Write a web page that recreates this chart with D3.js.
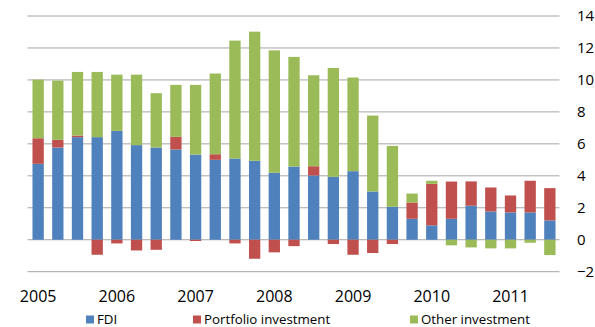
<!DOCTYPE html>
<html>
<head>
<meta charset="utf-8">
<script src="https://cdn.jsdelivr.net/npm/d3@7"></script>
<style>
  html, body { margin: 0; padding: 0; background: #fff; }
  svg { display: block; }
  text { font-family: "Open Sans", "Noto Sans", sans-serif; fill: #000; }
</style>
</head>
<body>
<svg id="chart" width="595" height="327"></svg>
<script>
const quarters = ["2005Q1","2005Q2","2005Q3","2005Q4","2006Q1","2006Q2","2006Q3","2006Q4",
  "2007Q1","2007Q2","2007Q3","2007Q4","2008Q1","2008Q2","2008Q3","2008Q4",
  "2009Q1","2009Q2","2009Q3","2009Q4","2010Q1","2010Q2","2010Q3","2010Q4",
  "2011Q1","2011Q2","2011Q3"];
const fdi = [4.75,5.77,6.42,6.42,6.81,5.92,5.77,5.65,5.33,5.00,5.08,4.94,4.19,4.58,4.02,3.94,4.29,3.02,2.06,1.31,0.90,1.31,2.13,1.77,1.71,1.71,1.21];
const portfolio = [1.60,0.48,0.10,-0.94,-0.23,-0.67,-0.63,0.79,-0.08,0.35,-0.23,-1.19,-0.79,-0.40,0.58,-0.27,-0.94,-0.83,-0.27,1.02,2.60,2.33,1.52,1.50,1.06,1.98,2.02];
const other = [3.67,3.71,3.98,4.08,3.52,4.41,3.40,3.25,4.36,5.05,7.38,8.08,7.66,6.86,5.69,6.81,5.86,4.75,3.81,0.56,0.19,-0.35,-0.48,-0.54,-0.54,-0.19,-0.96];
const seriesNames = ["FDI","Portfolio investment","Other investment"];
const seriesColors = ["#4F81BD","#C0504D","#9BBB59"];
const yTicks = [-2,0,2,4,6,8,10,12,14];
const yearLabels = ["2005","2006","2007","2008","2009","2010","2011"];

const rows = quarters.map((q, i) => ({ q, s0: fdi[i], s1: portfolio[i], s2: other[i] }));
const keys = ["s0","s1","s2"];

const svg = d3.select("#chart");
const x = d3.scaleBand().domain(quarters).range([28.3, 559.7]).paddingInner(0.425).paddingOuter(0.2125);
const y = d3.scaleLinear().domain([-2, 14]).range([271.7, 16]);

// gridlines
svg.append("g").selectAll("line").data(yTicks).join("line")
  .attr("x1", 27.5).attr("x2", 559.5)
  .attr("y1", d => y(d)).attr("y2", d => y(d))
  .attr("stroke", "#a6a6a6").attr("stroke-width", 1);

const stack = d3.stack().keys(keys).offset(d3.stackOffsetDiverging);
const layers = stack(rows);

svg.append("g").selectAll("g").data(layers).join("g")
  .attr("fill", (d, i) => seriesColors[i])
  .selectAll("rect").data(d => d).join("rect")
  .attr("x", d => x(d.data.q))
  .attr("width", x.bandwidth())
  .attr("y", d => y(Math.max(d[0], d[1])))
  .attr("height", d => Math.abs(y(d[0]) - y(d[1])));

// right y-axis labels
const yAxis = d3.axisRight(y).tickValues(yTicks).tickSize(0).tickPadding(0).tickFormat(d3.format("d"));
const ya = svg.append("g").attr("transform", "translate(577,0)").call(yAxis);
ya.select(".domain").remove();
ya.selectAll("text").attr("font-size", 15).attr("font-family", "Open Sans").attr("fill", "#000");

// x year labels centered at Q1 bars
const xAxis = d3.axisBottom(x)
  .tickValues(quarters.filter(q => q.endsWith("Q1")))
  .tickSize(0).tickPadding(0)
  .tickFormat(q => yearLabels[yearLabels.indexOf(q.slice(0,4))]);
const xa = svg.append("g").attr("transform", "translate(0,291)").call(xAxis);
xa.select(".domain").remove();
xa.selectAll("text").attr("font-size", 16).attr("font-family", "Open Sans").attr("fill", "#000");

// legend
const legendX = [86, 193, 410];
const lg = svg.append("g").selectAll("g").data(seriesNames).join("g")
  .attr("transform", (d, i) => `translate(${legendX[i]},315.5)`);
lg.append("rect").attr("width", 8).attr("height", 8).attr("fill", (d, i) => seriesColors[i]);
lg.append("text").attr("x", 11).attr("y", 8).attr("font-size", 13.3).text(d => d);
</script>
</body>
</html>
